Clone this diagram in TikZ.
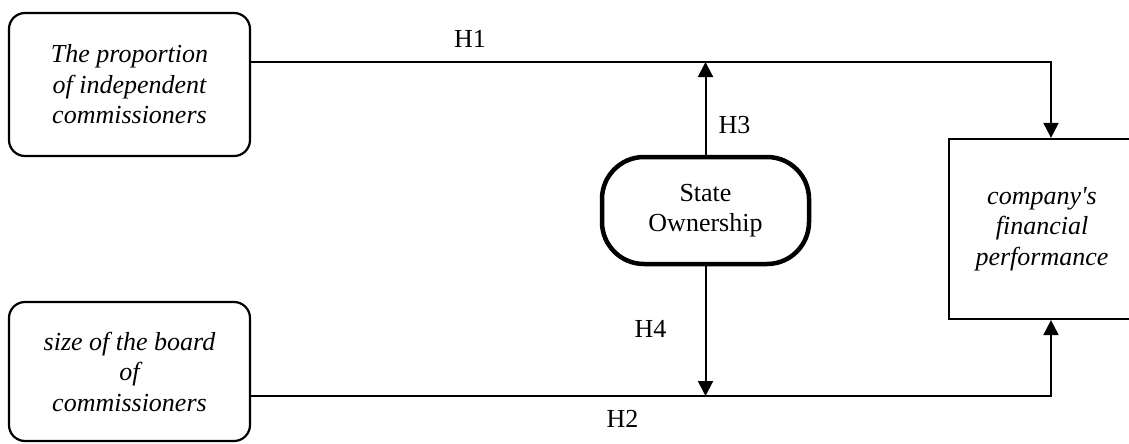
\documentclass[tikz,border=0pt]{standalone}
\usepackage{fontspec}
\setmainfont{Liberation Serif}[Ligatures=TeXOff]
\usetikzlibrary{arrows.meta}
\begin{document}
\begin{tikzpicture}[x=1pt,y=-1pt,
  txt/.style={font=\fontsize{26}{30.5}\selectfont, align=center},
  rbox/.style={txt, draw, line width=2.2pt, rounded corners=16pt, minimum width=241pt, inner sep=0pt, font=\fontsize{26}{30.5}\selectfont\itshape},
  pbox/.style={txt, draw, line width=2.2pt, inner sep=0pt, font=\fontsize{26}{30.5}\selectfont\itshape},
  stadium/.style={txt, draw, line width=4.5pt, rounded corners=42pt, minimum width=207pt, minimum height=107pt, inner sep=0pt},
  arr/.style={line width=2pt, -{Triangle[length=15pt,width=15pt]}},
  lbl/.style={font=\fontsize{26}{30}\selectfont, anchor=base, inner sep=0pt}]
\useasboundingbox (0,0) rectangle (1129,444);
\node[rbox, minimum height=143pt] (A) at (129.5,84.5) {The proportion\\of independent\\commissioners};
\node[rbox, minimum height=139pt] (B) at (129.5,371.5) {size of the board\\of\\commissioners};
\node[pbox, minimum width=186pt, minimum height=180pt] (C) at (1042,229) {company's\\financial\\performance};
\node[stadium] (S) at (705.5,210.5) {State\\Ownership};
\draw[arr] (A.east |- 0,62) -| ([xshift=9pt]C.north);
\draw[arr] (B.east |- 0,396) -| ([xshift=9pt]C.south);
\draw[arr] (S.north) -- (S.north |- 0,62);
\draw[arr] (S.south) -- (S.south |- 0,396);
\node[lbl] (h1) at (470,48) {H1};
\node[lbl] (h3) at (734.5,133) {H3};
\node[lbl] (h4) at (650.5,337) {H4};
\node[lbl] (h2) at (622.5,427) {H2};
\end{tikzpicture}
\end{document}
